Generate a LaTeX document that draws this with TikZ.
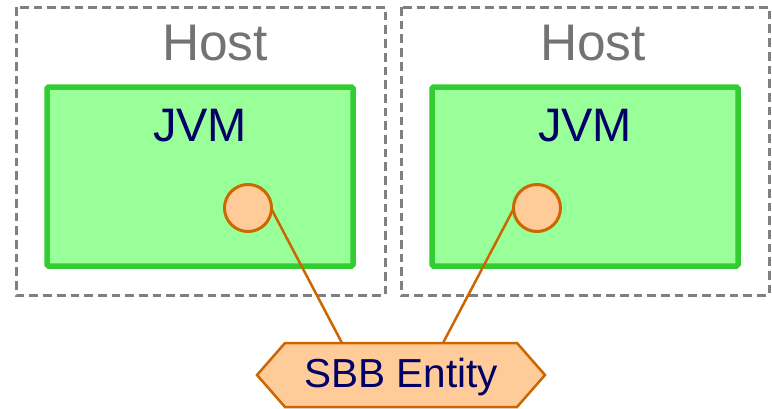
\documentclass[tikz,border=0pt]{standalone}
\usepackage{fontspec}
\setmainfont{Liberation Sans}
\definecolor{hostgray}{HTML}{808080}
\definecolor{hosttext}{HTML}{737373}
\definecolor{jvmfill}{HTML}{99FF99}
\definecolor{jvmline}{HTML}{33CC33}
\definecolor{navy}{HTML}{000066}
\definecolor{peach}{HTML}{FFCC99}
\definecolor{rust}{HTML}{CC6600}
\tikzset{
  hostbox/.style={draw=hostgray, line width=3pt, dash pattern=on 8.7pt off 5pt},
  hostlabel/.style={anchor=base, text=hosttext, font=\fontsize{51.5}{52}\selectfont, inner sep=0pt},
  jvmbox/.style={draw=jvmline, fill=jvmfill, line width=5.5pt, rounded corners=1.5pt},
  jvmlabel/.style={anchor=base, text=navy, font=\fontsize{47}{48}\selectfont, inner sep=0pt},
  sbbcircle/.style={circle, draw=rust, fill=peach, line width=3pt, minimum size=47pt, inner sep=0pt},
  sbbshape/.style={draw=rust, fill=peach, line width=2.5pt, line join=miter},
  sbblabel/.style={anchor=base, text=navy, font=\fontsize{40.5}{41}\selectfont, inner sep=0pt},
  link/.style={draw=rust, line width=2.5pt}
}
\begin{document}
\begin{tikzpicture}[x=1pt, y=-1pt]
  \useasboundingbox (0,0) rectangle (772,408);

  % hosts
  \draw[hostbox] (16,7) rectangle (385,295);
  \draw[hostbox] (401,7) rectangle (769,295);
  \node[hostlabel] (host1) at (215,60) {Host};
  \node[hostlabel] (host2) at (593,60) {Host};

  % JVMs
  \draw[jvmbox] (47,87) rectangle (353,266);
  \draw[jvmbox] (432,87) rectangle (738,266);
  \node[jvmlabel] (jvm1) at (200,141) {JVM};
  \node[jvmlabel] (jvm2) at (585,141) {JVM};

  % SBB entity
  \path[sbbshape] (257,375) -- (285,343) -- (517,343) -- (545,375) -- (517,407) -- (285,407) -- cycle;
  \node[sbblabel] (sbb) at (401,387) {SBB Entity};
  \coordinate (sbbL) at (342,343);
  \coordinate (sbbR) at (443,343);

  % links from the replicas to the entity
  \draw[link] (248,208) ++(-60:24) coordinate (c1out) -- (sbbL);
  \draw[link] (537,208) ++(-120:24) coordinate (c2out) -- (sbbR);
  \node[sbbcircle] (c1) at (248,208) {};
  \node[sbbcircle] (c2) at (537,208) {};
\end{tikzpicture}
\end{document}
